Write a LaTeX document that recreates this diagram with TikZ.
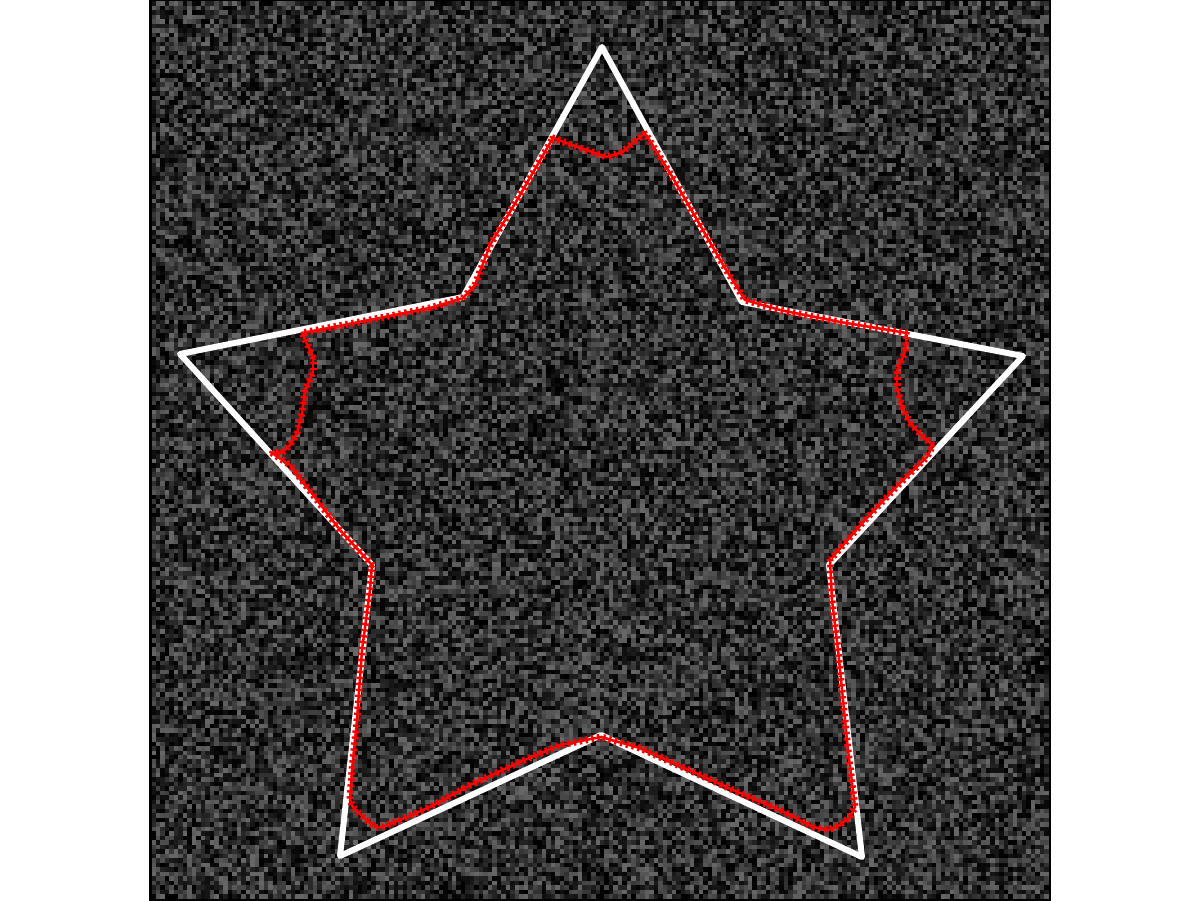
\documentclass[tikz,border=0pt]{standalone}
\usetikzlibrary{decorations.markings}
\makeatletter
\newcount\nzX \newcount\nzY \newcount\nzS \newcount\nzQ \newcount\nzR \newcount\nzL
\nzS=12345
\def\nzrand{%
 \nzQ=\nzS \divide\nzQ by 127773
 \nzR=\nzQ \multiply\nzR by -127773 \advance\nzR by \nzS
 \nzS=\numexpr 16807*\nzR-2836*\nzQ\relax
 \ifnum\nzS<1 \advance\nzS by 2147483647 \fi}
\expandafter\def\csname nzg0\endcsname{0 g}
\expandafter\def\csname nzg1\endcsname{0.016 g}
\expandafter\def\csname nzg2\endcsname{0.036 g}
\expandafter\def\csname nzg3\endcsname{0.058 g}
\expandafter\def\csname nzg4\endcsname{0.082 g}
\expandafter\def\csname nzg5\endcsname{0.107 g}
\expandafter\def\csname nzg6\endcsname{0.133 g}
\expandafter\def\csname nzg7\endcsname{0.160 g}
\expandafter\def\csname nzg8\endcsname{0.188 g}
\expandafter\def\csname nzg9\endcsname{0.217 g}
\expandafter\def\csname nzg10\endcsname{0.246 g}
\expandafter\def\csname nzg11\endcsname{0.276 g}
\expandafter\def\csname nzg12\endcsname{0.306 g}
\expandafter\def\csname nzg13\endcsname{0.337 g}
\expandafter\def\csname nzg14\endcsname{0.368 g}
\expandafter\def\csname nzg15\endcsname{0.40 g}
\def\nzpix{\nzrand \nzL=\nzS \divide\nzL by 134217728
 \edef\nztmp{\csname nzg\the\nzL\endcsname\space\the\nzX\space\the\nzY\space 1.03 1.03 re f}%
 \expandafter\pgfsys@invoke\expandafter{\nztmp}}
\def\nzcol{\ifnum\nzX<200 \nzpix\advance\nzX by 1 \expandafter\nzcol\fi}
\def\nzrow{\ifnum\nzY<200 \nzX=0 \nzcol\advance\nzY by 1 \expandafter\nzrow\fi}
\def\drawnoise{\pgfsys@invoke{q 4.485 0 0 4.485 151.5 -898.5 cm}\nzY=0 \nzrow\pgfsys@invoke{Q}}
\makeatother
\tikzset{
  starline/.style={draw=white, line width=6bp, line join=round},
  redcontour/.style={decoration={markings,
     mark=between positions 0 and 1 step 6bp with {
       \fill[red] (-3.5,-1.2) rectangle (3.5,1.2);
       \fill[red] (-1.2,-3.5) rectangle (1.2,3.5);}},
     postaction={decorate}},
}
\begin{document}
\begin{tikzpicture}[x=1bp,y=-1bp]
\useasboundingbox[fill=white] (0,0) rectangle (1201,901);
\fill[black] (149,0) rectangle (1051,901);
\drawnoise
% white star outline
\draw[starline] (602,47) -- (742,302) -- (1023,356) -- (829,565) -- (862,857)
  -- (601,735) -- (340,856) -- (372,565) -- (180,354) -- (463,297) -- cycle;
% red contour
\path[redcontour] (553,138) -- (580,148) -- (607,157) -- (622,152) -- (645,133)
  -- (673,178) -- (700,225) -- (725,268) -- (745,300) -- (780,310) -- (840,322)
  -- (907,333) -- (905,352) -- (897,370) -- (897,387) -- (902,407) -- (910,423)
  -- (923,437) -- (933,445) -- (927,457) -- (900,483) -- (865,520) -- (830,560)
  -- (832,600) -- (838,650) -- (843,700) -- (848,750) -- (855,807) -- (850,817)
  -- (840,825) -- (828,830) -- (813,827) -- (780,810) -- (733,790) -- (700,775)
  -- (640,748) -- (601,737) -- (560,745) -- (520,762) -- (470,785) -- (430,807)
  -- (400,820) -- (382,827) -- (375,827) -- (363,817) -- (353,807) -- (350,800)
  -- (352,770) -- (357,720) -- (362,650) -- (370,590) -- (372,565) -- (340,530)
  -- (317,500) -- (290,465) -- (272,453) -- (283,452) -- (290,445) -- (297,433)
  -- (302,413) -- (305,390) -- (313,372) -- (313,357) -- (302,333) -- (380,318)
  -- (430,308) -- (463,298) -- (475,285) -- (490,245) -- (520,195) -- cycle;
\end{tikzpicture}
\end{document}
